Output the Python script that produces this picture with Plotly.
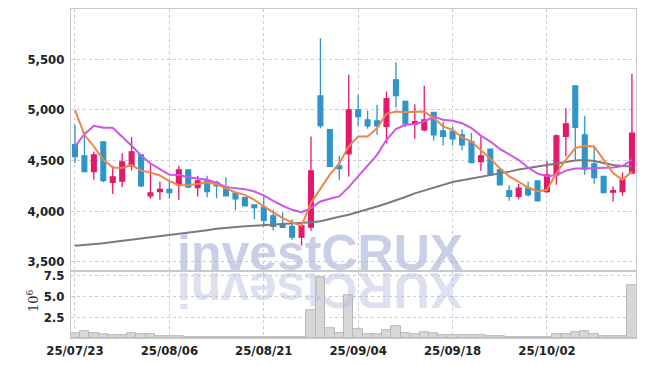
import plotly.graph_objects as go

dates = [
    "2025-07-23", "2025-07-24", "2025-07-25", "2025-07-28", "2025-07-29", "2025-07-30", "2025-07-31", "2025-08-01", "2025-08-04", "2025-08-05",
    "2025-08-06", "2025-08-07", "2025-08-08", "2025-08-11", "2025-08-12", "2025-08-13", "2025-08-14", "2025-08-18", "2025-08-19", "2025-08-20",
    "2025-08-21", "2025-08-22", "2025-08-25", "2025-08-26", "2025-08-27", "2025-08-28", "2025-08-29", "2025-09-01", "2025-09-02", "2025-09-03",
    "2025-09-04", "2025-09-05", "2025-09-08", "2025-09-09", "2025-09-10", "2025-09-11", "2025-09-12", "2025-09-15", "2025-09-16", "2025-09-17",
    "2025-09-18", "2025-09-19", "2025-09-22", "2025-09-23", "2025-09-24", "2025-09-25", "2025-09-26", "2025-09-29", "2025-09-30", "2025-10-01",
    "2025-10-02", "2025-10-10", "2025-10-13", "2025-10-14", "2025-10-15", "2025-10-16", "2025-10-17", "2025-10-20", "2025-10-21", "2025-10-22",
]

open_ = [4655, 4546, 4391, 4684, 4283, 4296, 4447, 4556, 4151, 4194,
         4214, 4260, 4408, 4233, 4299, 4283, 4233, 4178, 4135, 4062,
         4039, 3954, 3875, 3849, 3743, 3842, 5138, 4803, 4447, 4566,
         5000, 4901, 4891, 4836, 5296, 5082, 4859, 4803, 4974, 4793,
         4786, 4753, 4687, 4490, 4612, 4408, 4201, 4145, 4227, 4299,
         4194, 4358, 4737, 5237, 4753, 4467, 4342, 4187, 4194, 4375]
high = [4852, 4780, 4589, 4684, 4447, 4572, 4730, 4560, 4470, 4293,
        4293, 4447, 4410, 4349, 4349, 4299, 4335, 4194, 4135, 4062,
        4145, 4013, 3987, 3921, 3860, 4737, 5707, 4810, 4546, 5345,
        5148, 4990, 5049, 5181, 5470, 5090, 5056, 5237, 4980, 4885,
        4836, 4809, 4770, 4737, 4612, 4434, 4256, 4270, 4293, 4299,
        4490, 4760, 5016, 5237, 4941, 4632, 4349, 4243, 4381, 5355]
low = [4474, 4381, 4309, 4286, 4168, 4237, 4401, 4237, 4125, 4112,
       4125, 4112, 4227, 4145, 4138, 4128, 4145, 4013, 4046, 3921,
       3842, 3809, 3833, 3717, 3658, 3806, 4819, 4441, 4309, 4342,
       4836, 4812, 4753, 4671, 5026, 4829, 4714, 4786, 4697, 4648,
       4648, 4599, 4480, 4398, 4349, 4260, 4102, 4118, 4145, 4095,
       4178, 4260, 4539, 4507, 4358, 4270, 4184, 4095, 4151, 4375]
close = [4539, 4391, 4556, 4302, 4339, 4487, 4585, 4250, 4181, 4214,
         4184, 4408, 4237, 4299, 4194, 4250, 4151, 4122, 4052, 4036,
         3908, 3849, 3839, 3743, 3855, 4398, 4845, 4441, 4421, 5000,
         4934, 4842, 4842, 5109, 5141, 4862, 4882, 4901, 4753, 4737,
         4714, 4655, 4480, 4546, 4358, 4260, 4145, 4227, 4161, 4102,
         4358, 4743, 4862, 4826, 4414, 4332, 4184, 4201, 4309, 4770]

ma_short = [5000, 4753, 4638, 4510, 4430, 4425, 4455, 4400, 4380, 4352,
            4296, 4258, 4255, 4270, 4283, 4266, 4227, 4184, 4161, 4112,
            4046, 3987, 3931, 3890, 3855, 4080, 4220, 4360, 4470, 4640,
            4737, 4737, 4819, 4961, 4984, 4976, 4980, 4984, 4918, 4836,
            4803, 4727, 4687, 4605, 4516, 4424, 4342, 4290, 4233, 4194,
            4211, 4375, 4507, 4622, 4645, 4638, 4507, 4375, 4309, 4392]
ma_mid = [4638, 4760, 4842, 4822, 4822, 4737, 4645, 4550, 4470, 4415,
          4358, 4356, 4335, 4323, 4309, 4280, 4237, 4227, 4217, 4194,
          4155, 4102, 4053, 4013, 3990, 4030, 4095, 4122, 4145, 4237,
          4342, 4450, 4556, 4704, 4809, 4852, 4860, 4885, 4934, 4901,
          4891, 4868, 4819, 4745, 4687, 4615, 4556, 4505, 4430, 4370,
          4345, 4355, 4400, 4420, 4422, 4425, 4431, 4431, 4445, 4507]
ma_long = [3658, 3665, 3672, 3682, 3695, 3706, 3718, 3730, 3745, 3755,
           3765, 3775, 3785, 3800, 3812, 3825, 3835, 3843, 3850, 3855,
           3860, 3865, 3870, 3875, 3882, 3890, 3900, 3925, 3945, 3965,
           3990, 4015, 4045, 4075, 4105, 4140, 4175, 4205, 4235, 4262,
           4288, 4305, 4322, 4340, 4355, 4368, 4390, 4410, 4425, 4440,
           4455, 4468, 4485, 4500, 4505, 4495, 4475, 4455, 4445, 4441]

volume_m = [0.55, 0.83, 0.55, 0.50, 0.35, 0.35, 0.63, 0.40, 0.40, 0.24,
            0.22, 0.20, 0.15, 0.12, 0.12, 0.05, 0.05, 0.05, 0.08, 0.08,
            0.08, 0.12, 0.12, 0.12, 0.15, 3.30, 7.20, 1.20, 0.60, 5.10,
            1.10, 0.50, 0.50, 0.95, 1.35, 0.60, 0.45, 0.75, 0.60, 0.36,
            0.28, 0.36, 0.36, 0.28, 0.20, 0.20, 0.15, 0.15, 0.12, 0.10,
            0.10, 0.50, 0.50, 0.75, 0.87, 0.50, 0.20, 0.20, 0.20, 6.30]

tick_dates = ["2025-07-23", "2025-08-06", "2025-08-21", "2025-09-04", "2025-09-18", "2025-10-02"]
tick_text = ["25/07/23", "25/08/06", "25/08/21", "25/09/04", "25/09/18", "25/10/02"]
price_ticks = [3500, 4000, 4500, 5000, 5500]
price_tick_text = ["3,500", "4,000", "4,500", "5,000", "5,500"]
vol_ticks = [2.5, 5.0, 7.5]
vol_tick_text = ["2.5", "5.0", "7.5"]

RED = "#e3196c"
BLUE = "#2f95c8"
GRID = "#c9cbdc"
BORDER = "#c8c8c8"
FONT = "DejaVu Sans Condensed, DejaVu Sans, sans-serif"
TICKFONT = dict(family=FONT, size=13, color="#222222", weight="bold")

# The page body has an 8px default margin, so the figure is sized to fit the
# 645x366 window and the page-pixel layout below is shifted by that offset.
OFF = 8
W, H = 645 - 2 * OFF, 366 - 2 * OFF
# plot area in page pixels
L, R, T, B = 71, 636, 9, 338
def px(x):
    return (x - L) / (R - L)
def py(y):
    return (B - y) / (B - T)

fig = go.Figure()
fig.add_trace(go.Candlestick(
    x=dates, open=open_, high=high, low=low, close=close,
    increasing=dict(line=dict(color=RED, width=1.3), fillcolor=RED),
    decreasing=dict(line=dict(color=BLUE, width=1.3), fillcolor=BLUE),
    whiskerwidth=0, showlegend=False, xaxis="x", yaxis="y", hoverinfo="skip"))
fig.add_trace(go.Scatter(x=dates, y=ma_long, mode="lines", line=dict(color="#7b7b7b", width=2),
                         showlegend=False, xaxis="x", yaxis="y", hoverinfo="skip"))
fig.add_trace(go.Scatter(x=dates, y=ma_mid, mode="lines", line=dict(color="#cc55ea", width=2),
                         showlegend=False, xaxis="x", yaxis="y", hoverinfo="skip"))
fig.add_trace(go.Scatter(x=dates, y=ma_short, mode="lines", line=dict(color="#ef8549", width=2),
                         showlegend=False, xaxis="x", yaxis="y", hoverinfo="skip"))
fig.add_trace(go.Bar(x=dates, y=volume_m, xaxis="x2", yaxis="y2", showlegend=False,
                     marker=dict(color="#d7d7d7", line=dict(color="#b8b8b8", width=1)),
                     hoverinfo="skip"))

xcommon = dict(type="category", range=[-0.42, 59.43], tickvals=tick_dates, ticktext=tick_text,
               showgrid=True, gridcolor=GRID, griddash="dot", gridwidth=1, automargin=False,
               showline=True, linecolor=BORDER, mirror=True, ticks="", zeroline=False,
               tickfont=TICKFONT)
ycommon = dict(showgrid=True, gridcolor=GRID, griddash="dot", zeroline=False, automargin=False,
               showline=True, linecolor=BORDER, mirror=True, ticks="", ticklabelstandoff=3,
               tickfont=TICKFONT)

fig.update_layout(
    width=W, height=H,
    margin=dict(l=L - OFF, r=W - (R - OFF), t=T - OFF, b=H - (B - OFF), autoexpand=False),
    paper_bgcolor="white", plot_bgcolor="white",
    bargap=0, boxgap=0.28,
    xaxis=dict(**xcommon, anchor="y", showticklabels=False, rangeslider=dict(visible=False)),
    xaxis2=dict(**xcommon, anchor="y2", matches="x", showticklabels=True),
    yaxis=dict(**ycommon, domain=[0.207, 1], range=[3420, 5995], tickvals=price_ticks,
               ticktext=price_tick_text),
    yaxis2=dict(**ycommon, domain=[0, 0.2], range=[0, 7.85], tickvals=vol_ticks,
                ticktext=vol_tick_text),
    annotations=[
        dict(text="investCRUX", xref="paper", yref="paper", x=px(320), y=py(252.7),
             xanchor="center", yanchor="middle", showarrow=False, opacity=0.7,
             font=dict(family="Liberation Sans, Arial, sans-serif", size=50, color="#b3bcdc", weight="bold")),
        dict(text="XURCtsevni", xref="paper", yref="paper", x=px(320), y=py(290),
             xanchor="center", yanchor="middle", showarrow=False, opacity=0.45, textangle=180,
             font=dict(family="Liberation Sans, Arial, sans-serif", size=50, color="#b3bcdc", weight="bold")),
        dict(text="10<sup>6</sup>", xref="paper", yref="paper", x=px(33), y=py(301),
             xanchor="center", yanchor="middle", showarrow=False, textangle=-90,
             font=dict(family="DejaVu Serif, serif", size=13, color="#333333")),
    ],
)

fig.write_html("out.html")
